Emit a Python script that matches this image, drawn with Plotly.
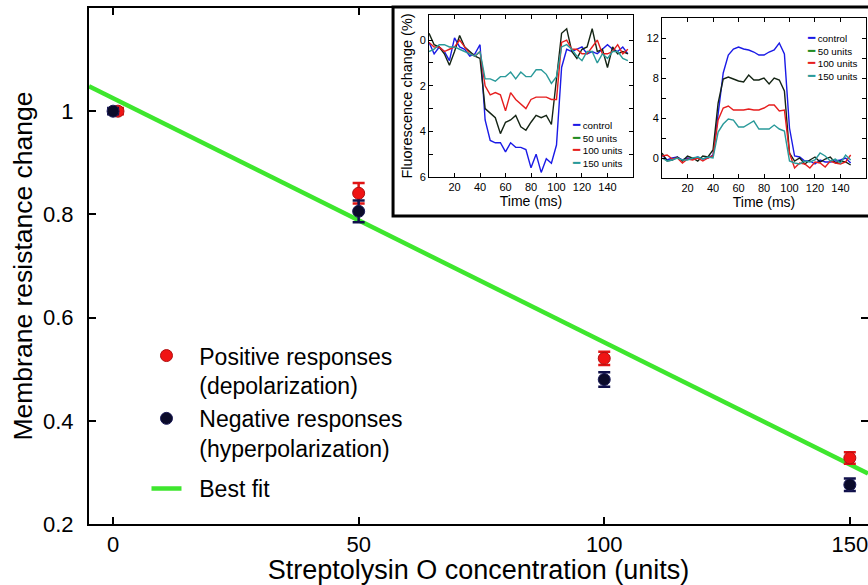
import plotly.graph_objects as go

# ---------------- main panel data ----------------
conc_pos = [1, 50, 100, 150]
conc_neg = [0, 50, 100, 150]
pos_resp = [1.0, 0.841, 0.521, 0.328]
pos_err = [0.006, 0.02, 0.013, 0.011]
neg_resp = [1.0, 0.806, 0.480, 0.276]
neg_err = [0.006, 0.021, 0.014, 0.012]
fit_intercept = 1.025
fit_slope = -0.00473

x_ticks = [0, 50, 100, 150]
y_ticks = [0.2, 0.4, 0.6, 0.8, 1.0]
y_ticktext = ["0.2", "0.4", "0.6", "0.8", "1"]

# ---------------- inset data ----------------
series_names = ["control", "50 units", "100 units", "150 units"]
legend_colors = ["#1a1ae6", "#228b22", "#e61e1e", "#2a9a9a"]
line_colors = ["#1a1ae6", "#142414", "#e61e1e", "#2a9a9a"]

time1 = [0, 4, 8, 12, 16, 20, 24, 28, 32, 36, 40, 44, 48, 52, 56, 60, 64, 68, 72, 76,
         80, 84, 88, 92, 96, 100, 104, 108, 112, 116, 120, 124, 128, 132, 136, 140,
         144, 148, 152, 156]
ctrl1 = [0.1, 0.6, 0.3, 0.5, 0.9, -0.1, 0.3, 0.4, 0.7, 0.6, 0.2,
         3.5, 4.4, 4.5, 4.5, 4.9, 4.5, 4.7, 4.7, 4.8, 5.6, 5.0, 5.8, 5.2, 5.4, 4.6,
         1.2, 0.4, 0.5, 0.4, 0.3, 0.6, 0.5, 0.6, 0.4, 0.2, 0.4, 0.5, 0.3, 0.6]
u50_1 = [-0.3, 0.2, 0.3, 0.6, 1.1, 0.5, -0.2, 0.3, 0.5, 0.7, 0.8,
         3.0, 3.2, 3.4, 4.1, 3.6, 3.5, 3.3, 3.8, 3.95, 3.6, 3.3, 3.4, 3.3, 3.7, 1.8,
         -0.3, -0.5, 0.5, 0.8, 0.4, 0.3, -0.5, 0.5, 0.4, 1.2, 0.3, 0.6, 0.5, 0.6]
u100_1 = [0.1, 0.3, 0.3, 0.5, 0.4, 0.3, 0.0, 0.3, 0.6, 0.7, 0.5,
          2.0, 2.4, 2.3, 2.4, 3.1, 2.3, 2.6, 2.8, 3.0, 2.6, 2.5, 2.5, 2.5, 2.6, 2.6,
          0.1, 0.0, 0.4, 0.4, 0.6, 0.6, 0.3, 0.0, 0.6, 0.6, 0.5, 0.2, 0.6, 0.4]
u150_1 = [0.5, 0.4, 0.2, 0.2, 0.3, 0.3, 0.4, 0.5, 0.6, 0.7, 0.5,
          1.7, 1.7, 1.8, 1.6, 1.6, 1.4, 1.7, 1.4, 1.6, 1.6, 1.3, 1.3, 1.5, 1.9, 1.6,
          0.3, 0.2, 0.4, 0.7, 0.9, 0.5, 0.5, 1.0, 0.6, 0.8, 0.5, 0.5, 0.8, 0.9]

time2 = [0, 4, 8, 12, 16, 20, 24, 28, 32, 36, 40, 44, 48, 52, 56, 60, 64, 68, 72, 76,
         80, 84, 88, 92, 96, 100, 104, 108, 112, 116, 120, 124, 128, 132, 136, 140,
         144, 148]
ctrl2 = [0.3, -0.2, 0.0, 0.1, -0.2, 0.0, -0.1, 0.1, -0.1, 0.0, 0.3,
         4.5, 8.5, 10.3, 10.9, 11.1, 10.9, 10.8, 10.6, 10.3, 10.3, 10.6, 10.8, 11.5, 10.4, 3.0,
         0.2, 0.1, -0.3, -0.3, -0.6, -0.2, -0.4, -0.4, -0.3, -0.2, 0.0, -0.5]
u50_2 = [0.5, -0.3, -0.2, 0.1, -0.3, 0.2, 0.0, -0.3, 0.2, 0.1, 0.8,
         5.5, 7.9, 8.1, 7.9, 7.7, 7.6, 8.3, 7.8, 7.8, 8.0, 7.4, 8.0, 7.8, 6.7, 0.5,
         -0.3, 0.0, -0.6, -0.2, 0.1, -0.4, -0.1, 0.1, -0.5, -0.3, -0.4, -0.7]
u100_2 = [0.2, 0.3, -0.1, 0.0, -0.5, -0.1, -0.2, 0.0, -0.3, 0.0, 0.2,
          3.8, 5.0, 5.2, 4.8, 4.8, 4.8, 4.9, 4.8, 4.8, 5.0, 5.3, 5.3, 4.7, 4.8, 0.5,
          -1.0, -0.5, -0.6, -1.0, -0.4, -0.5, -0.9, -0.3, -0.5, -0.6, -0.4, 0.3]
u150_2 = [0.0, -0.3, -0.2, 0.0, -0.2, -0.2, 0.0, 0.1, -0.1, 0.1, 0.0,
          2.6, 3.4, 3.9, 3.8, 3.1, 3.1, 3.4, 3.7, 2.9, 2.9, 2.9, 3.3, 2.9, 2.7, -0.3,
          -0.5, -0.6, -0.3, -0.4, -0.2, 0.5, 0.2, -0.3, -0.1, -0.5, 0.3, -0.2]

inset1_x_ticks = [20, 40, 60, 80, 100, 120, 140]
inset1_y_ticks = [0, 1, 2, 3, 4, 5, 6]
inset1_y_text = ["0", "", "2", "", "4", "", "6"]
inset2_y_ticks = [0, 2, 4, 6, 8, 10, 12]
inset2_y_text = ["0", "", "4", "", "8", "", "12"]

FONT = "Arial, 'Liberation Sans', sans-serif"
X_RANGE = [-4.9, 153.7]
Y_RANGE = [0.2, 1.2]

fig = go.Figure()

# best-fit line (drawn first, below the points)
fit_x = X_RANGE
fit_y = [fit_intercept + fit_slope * v for v in fit_x]
fig.add_trace(go.Scatter(
    x=fit_x, y=fit_y, mode="lines", name="\u00a0\u00a0Best fit",
    line=dict(color="#3ee62e", width=4.5), legend="legend2"))

fig.add_trace(go.Scatter(
    x=conc_pos, y=pos_resp, mode="markers",
    name="\u00a0\u00a0Positive responses<br>\u00a0\u00a0(depolarization)",
    marker=dict(color="#f01414", size=12, line=dict(color="#b01010", width=1)),
    error_y=dict(type="data", array=pos_err, color="#e01414", thickness=2.5, width=6),
    legendrank=1))

fig.add_trace(go.Scatter(
    x=conc_neg, y=neg_resp, mode="markers",
    name="\u00a0\u00a0Negative responses<br>\u00a0\u00a0(hyperpolarization)",
    marker=dict(color="#0b0b2a", size=12, line=dict(color="#1c1c5a", width=1)),
    error_y=dict(type="data", array=neg_err, color="#10104a", thickness=2.5, width=6),
    legendrank=2))

# helper trace for the mirrored top/right tick axes
fig.add_trace(go.Scatter(x=[], y=[], xaxis="x4", yaxis="y4", showlegend=False,
                         hoverinfo="skip"))

inset1_vals = [ctrl1, u50_1, u100_1, u150_1]
inset2_vals = [ctrl2, u50_2, u100_2, u150_2]
for vals, col in zip(inset1_vals, line_colors):
    fig.add_trace(go.Scatter(x=time1, y=vals, mode="lines", xaxis="x2", yaxis="y2",
                             line=dict(color=col, width=1.4), showlegend=False))
for vals, col in zip(inset2_vals, line_colors):
    fig.add_trace(go.Scatter(x=time2, y=vals, mode="lines", xaxis="x3", yaxis="y3",
                             line=dict(color=col, width=1.4), showlegend=False))

main_axis = dict(showline=True, linecolor="black", linewidth=2, ticks="inside",
                 ticklen=7, tickwidth=2, tickcolor="black", showgrid=False,
                 zeroline=False, tickfont=dict(size=22, color="black", family=FONT))
inset_axis = dict(showline=True, linecolor="black", linewidth=1, mirror="ticks",
                  ticks="inside", ticklen=4, tickwidth=1, tickcolor="black",
                  showgrid=False, zeroline=False,
                  tickfont=dict(size=11, color="black", family=FONT))

legend_common = dict(xanchor="left", yanchor="top", valign="top",
                     bgcolor="rgba(0,0,0,0)", font=dict(size=23, family=FONT))

fig.update_layout(
    width=868, height=585,
    margin=dict(l=89, r=0, t=8, b=61),
    paper_bgcolor="white", plot_bgcolor="white",
    font=dict(family=FONT, color="black"),
    xaxis=dict(main_axis, range=X_RANGE, tickvals=x_ticks, domain=[0, 1],
               ticklabelstandoff=0, ticklabeloverflow="allow",
               title=dict(text="Streptolysin O concentration (units)",
                          font=dict(size=27), standoff=10)),
    yaxis=dict(main_axis, range=Y_RANGE, tickvals=y_ticks, ticktext=y_ticktext,
               domain=[0, 1], ticklabelstandoff=9,
               title=dict(text="Membrane resistance change", font=dict(size=26.5),
                          standoff=3)),
    xaxis4=dict(main_axis, overlaying="x", side="top", anchor="y4", range=X_RANGE,
                tickvals=[0, 50], showticklabels=False),
    yaxis4=dict(main_axis, overlaying="y", side="right", anchor="x4", range=Y_RANGE,
                tickvals=[0.2, 0.4, 0.6], showticklabels=False, showline=False),
    xaxis2=dict(inset_axis, domain=[0.4365, 0.6983], anchor="y2", range=[0, 160],
                tickvals=inset1_x_ticks,
                title=dict(text="Time (ms)", font=dict(size=14), standoff=1)),
    yaxis2=dict(inset_axis, domain=[0.6725, 0.9864], anchor="x2", range=[6, -1.1],
                tickvals=inset1_y_ticks, ticktext=inset1_y_text,
                title=dict(text="Fluorescence change (%)", font=dict(size=14.5),
                           standoff=3)),
    xaxis3=dict(inset_axis, domain=[0.7356, 0.9974], anchor="y3", range=[0, 160],
                tickvals=inset1_x_ticks,
                title=dict(text="Time (ms)", font=dict(size=14), standoff=1)),
    yaxis3=dict(inset_axis, domain=[0.6705, 0.9806], anchor="x3", range=[-2, 14],
                tickvals=inset2_y_ticks, ticktext=inset2_y_text),
    legend=dict(legend_common, x=0.0738, y=0.368),
    legend2=dict(legend_common, x=0.0738, y=0.1105),
    showlegend=True,
    shapes=[dict(type="rect", xref="paper", yref="paper", x0=0.3903, x1=1.02,
                 y0=0.5969, y1=1.002, line=dict(color="black", width=3),
                 fillcolor="white", layer="below")],
)

# inset legends (short coloured keys), one multi-line text block per inset
legend_rows = "<br>".join(
    f"<span style='color:{col};font-size:12px'>━</span> {nm}"
    for nm, col in zip(series_names, legend_colors))
annotations = []
for (lx, ly) in [(0.6175, 0.7355), (0.9191, 0.905)]:
    annotations.append(dict(
        xref="paper", yref="paper", x=lx, y=ly, xanchor="left", yanchor="middle",
        align="left", showarrow=False, text=legend_rows,
        font=dict(size=9.8, family=FONT, color="black")))
fig.update_layout(annotations=annotations)

fig.write_html("out.html",
               config={"displayModeBar": False},
               post_script="document.body.style.margin='0px';"
                           "document.body.style.overflow='hidden';")
